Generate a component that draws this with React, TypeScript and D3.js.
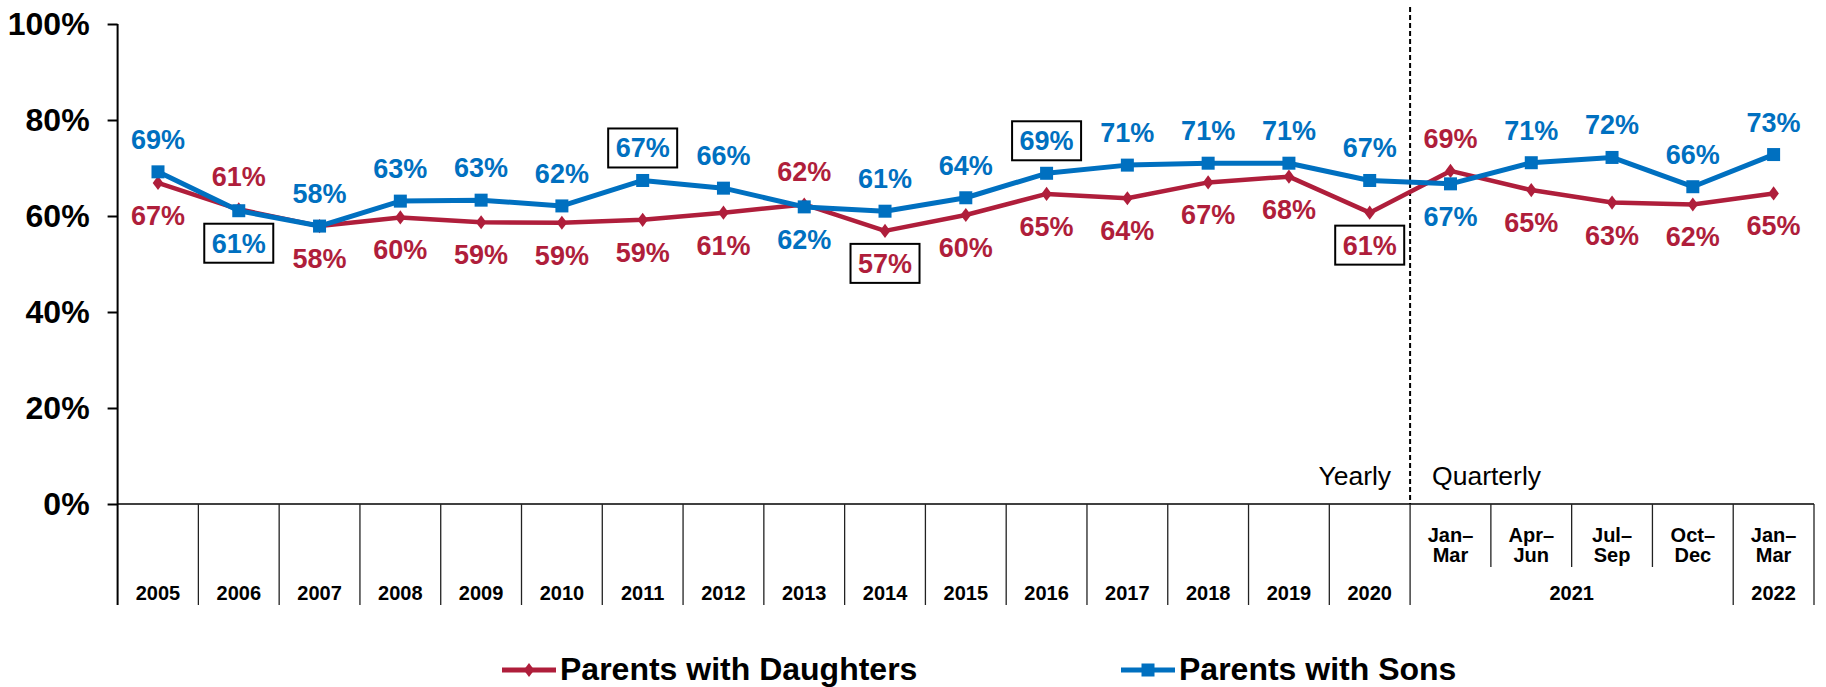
import * as React from "react";
import * as d3 from "d3";

// categories: 16 years, then 5 quarters
const years = ["2005", "2006", "2007", "2008", "2009", "2010", "2011", "2012", "2013", "2014", "2015", "2016", "2017", "2018", "2019", "2020"];
const quarterIds = ["2021-Q1", "2021-Q2", "2021-Q3", "2021-Q4", "2022-Q1"];
const quarterTop = ["Jan–", "Apr–", "Jul–", "Oct–", "Jan–"];
const quarterBottom = ["Mar", "Jun", "Sep", "Dec", "Mar"];
const quarterYears = [
  { label: "2021", first: "2021-Q1", last: "2021-Q4" },
  { label: "2022", first: "2022-Q1", last: "2022-Q1" },
];
const categories = [...years, ...quarterIds];

const daughters = [66.9, 61.4, 57.9, 59.7, 58.7, 58.6, 59.2, 60.7, 62.4, 56.9, 60.2, 64.6, 63.7, 67.0, 68.2, 60.7, 69.4, 65.4, 62.8, 62.4, 64.7];
const sons = [69.2, 61.1, 57.9, 63.1, 63.3, 62.1, 67.4, 65.8, 61.9, 61.0, 63.8, 68.9, 70.6, 71.0, 71.0, 67.4, 66.7, 71.1, 72.2, 66.1, 72.8];

// which side of the point each value label sits on
const daughtersSide = ["below", "above", "below", "below", "below", "below", "below", "below", "above", "below", "below", "below", "below", "below", "below", "below", "above", "below", "below", "below", "below"];
const sonsSide = ["above", "below", "above", "above", "above", "above", "above", "above", "below", "above", "above", "above", "above", "above", "above", "above", "below", "above", "above", "above", "above"];
const daughtersBoxed = ["2014", "2020"];
const sonsBoxed = ["2006", "2011", "2016"];

const yTicks = [0, 20, 40, 60, 80, 100];

const RED = "#AF1E3B";
const BLUE = "#0070C0";
const FONT = "'Liberation Sans', Arial, Helvetica, sans-serif";

function drawChart(svgRef) {
  const width = 1826;
  const height = 687;
  const left = 117.6;
  const right = 1814;
  const top = 24;
  const bottom = 504;
  const axisBottom = 605;

  const x = d3.scaleBand().domain(categories).range([left, right]).padding(0);
  const y = d3.scaleLinear().domain([0, 100]).range([bottom, top]);
  const cx = (d) => x(d) + x.bandwidth() / 2;

  const svg = d3.select(svgRef.current).attr("width", width).attr("height", height);
  svg.selectAll("*").remove();

  // y axis
  const yAxis = svg
    .append("g")
    .attr("transform", `translate(${left},0)`)
    .call(d3.axisLeft(y).tickValues(yTicks).tickSize(10).tickPadding(18).tickFormat((d) => d + "%"));
  yAxis.select(".domain").attr("stroke", "#000").attr("stroke-width", 2).attr("d", `M0,${top}V${axisBottom}`);
  yAxis.selectAll(".tick line").attr("stroke", "#000").attr("stroke-width", 2);
  yAxis
    .selectAll(".tick text")
    .attr("font-family", FONT)
    .attr("font-size", 32)
    .attr("font-weight", "bold")
    .attr("fill", "#000");

  // x axis line
  svg.append("line").attr("x1", left).attr("x2", right).attr("y1", bottom).attr("y2", bottom).attr("stroke", "#000").attr("stroke-width", 1.5);

  // category dividers
  const boundaries = d3.range(1, categories.length + 1);
  svg
    .selectAll(".divider")
    .data(boundaries)
    .enter()
    .append("line")
    .attr("x1", (i) => left + i * x.bandwidth())
    .attr("x2", (i) => left + i * x.bandwidth())
    .attr("y1", bottom)
    .attr("y2", (i) => (i > years.length && i < categories.length - 1 ? 567 : axisBottom))
    .attr("stroke", "#222")
    .attr("stroke-width", 1.3);

  // yearly / quarterly separator
  const sepX = left + years.length * x.bandwidth();
  svg
    .append("line")
    .attr("x1", sepX)
    .attr("x2", sepX)
    .attr("y1", 7)
    .attr("y2", bottom)
    .attr("stroke", "#000")
    .attr("stroke-width", 2)
    .attr("stroke-dasharray", "5,3");

  svg.append("text").text("Yearly").attr("x", sepX - 19).attr("y", 485).attr("text-anchor", "end")
    .attr("font-family", FONT).attr("font-size", 26.5).attr("fill", "#000");
  svg.append("text").text("Quarterly").attr("x", sepX + 22).attr("y", 485)
    .attr("font-family", FONT).attr("font-size", 26.5).attr("fill", "#000");

  // category labels
  const catText = (sel) => sel.attr("font-family", FONT).attr("font-size", 20).attr("font-weight", "bold").attr("fill", "#000").attr("text-anchor", "middle");
  svg.selectAll(".yearLabel").data(years).enter().append("text").text((d) => d)
    .attr("x", cx).attr("y", 600).call(catText);
  svg.selectAll(".qTop").data(quarterIds).enter().append("text").text((d, i) => quarterTop[i])
    .attr("x", cx).attr("y", 542).call(catText);
  svg.selectAll(".qBot").data(quarterIds).enter().append("text").text((d, i) => quarterBottom[i])
    .attr("x", cx).attr("y", 562).call(catText);
  svg.selectAll(".qYear").data(quarterYears).enter().append("text").text((d) => d.label)
    .attr("x", (d) => (x(d.first) + x(d.last) + x.bandwidth()) / 2).attr("y", 600).call(catText);

  // series
  const series = [
    { name: "Parents with Daughters", values: daughters, side: daughtersSide, boxed: daughtersBoxed, color: RED, width: 4.5, marker: "diamond" },
    { name: "Parents with Sons", values: sons, side: sonsSide, boxed: sonsBoxed, color: BLUE, width: 5, marker: "square" },
  ];

  const line = d3.line().x((d, i) => cx(categories[i])).y((d) => y(d));

  series.forEach((s) => {
    svg.append("path").datum(s.values).attr("d", line).attr("fill", "none").attr("stroke", s.color)
      .attr("stroke-width", s.width).attr("stroke-linejoin", "round");

    const g = svg.append("g");
    s.values.forEach((v, i) => {
      const px = cx(categories[i]);
      const py = y(v);
      if (s.marker === "square") {
        g.append("rect").attr("x", px - 6.5).attr("y", py - 6.5).attr("width", 13).attr("height", 13).attr("fill", s.color);
      } else {
        g.append("path").attr("d", d3.symbol(d3.symbolDiamond, 80)()).attr("transform", `translate(${px},${py}) scale(1.1,0.85)`).attr("fill", s.color);
      }
    });
  });

  // value labels
  series.forEach((s) => {
    s.values.forEach((v, i) => {
      const px = cx(categories[i]);
      const ly = y(v) + (s.side[i] === "above" ? -32.5 : 32.5);
      if (s.boxed.includes(categories[i])) {
        svg.append("rect").attr("x", px - 34.5).attr("y", ly - 19.5).attr("width", 69).attr("height", 39)
          .attr("fill", "#fff").attr("stroke", "#000").attr("stroke-width", 2);
      }
      svg.append("text").text(Math.round(v) + "%").attr("x", px).attr("y", ly).attr("dy", "0.35em")
        .attr("text-anchor", "middle").attr("font-family", FONT).attr("font-size", 27)
        .attr("font-weight", "bold").attr("fill", s.color);
    });
  });

  // legend
  const legendX = [502, 1121];
  series.forEach((s, i) => {
    const lx = legendX[i];
    const g = svg.append("g");
    g.append("line").attr("x1", lx).attr("x2", lx + 54).attr("y1", 670).attr("y2", 670).attr("stroke", s.color).attr("stroke-width", 5);
    if (s.marker === "square") {
      g.append("rect").attr("x", lx + 27 - 6.5).attr("y", 670 - 6.5).attr("width", 13).attr("height", 13).attr("fill", s.color);
    } else {
      g.append("path").attr("d", d3.symbol(d3.symbolDiamond, 80)()).attr("transform", `translate(${lx + 27},670) scale(1.1,0.85)`).attr("fill", s.color);
    }
    g.append("text").text(s.name).attr("x", lx + 58).attr("y", 680).attr("font-family", FONT)
      .attr("font-size", 32).attr("font-weight", "bold").attr("fill", "#000");
  });
}

const App = () => {
  const svgRef = React.useRef(null);

  React.useEffect(() => {
    drawChart(svgRef);
  }, [svgRef]);

  return (
    <div style={{ position: "absolute", left: 0, top: 0, background: "#fff" }}>
      <svg ref={svgRef} style={{ display: "block" }} />
    </div>
  );
};

export default App;
